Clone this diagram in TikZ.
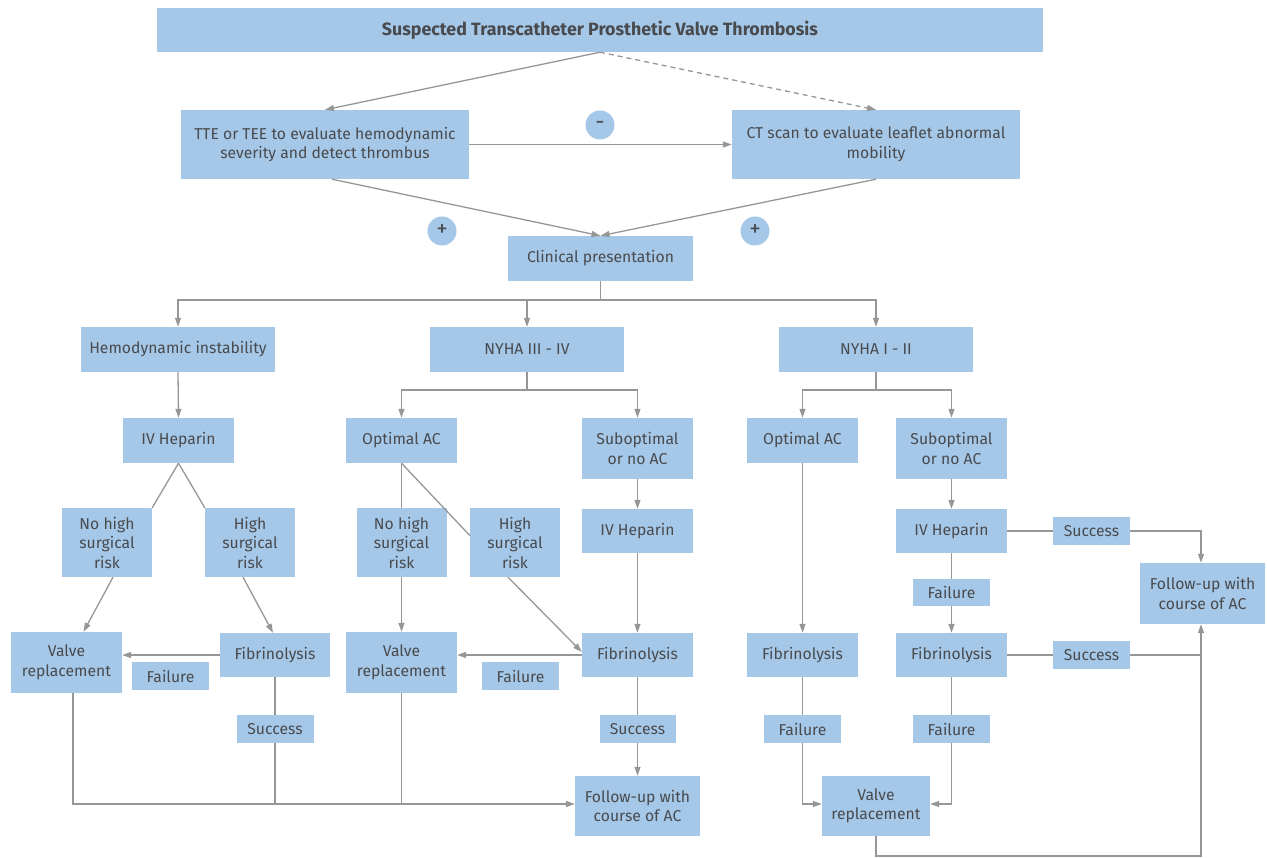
\documentclass[tikz,border=0pt]{standalone}
\usepackage{fontspec}
\setmainfont{Fira Sans}
\usetikzlibrary{arrows.meta,calc}
\definecolor{boxblue}{RGB}{166,200,232}
\definecolor{txtc}{RGB}{72,74,78}
\definecolor{lnc}{RGB}{150,150,150}
\begin{document}
\begin{tikzpicture}[x=1pt,y=-1pt,
  box/.style={fill=boxblue, text=txtc, inner sep=0pt, align=center, font=\fontsize{15.7}{19.5}\selectfont},
  arr/.style={draw=lnc, line width=1.3pt, -{Triangle[length=9pt,width=6pt]}},
  lnk/.style={draw=lnc, line width=1.3pt},
  circ/.style={circle, fill=boxblue, minimum size=29pt, inner sep=0pt, text=txtc, font=\fontsize{23}{24}\selectfont}]
\useasboundingbox (0,0) rectangle (1267,858);
\coordinate (y300) at (0,300);
\coordinate (y390) at (0,390);
\coordinate (y804) at (0,804);
\coordinate (y856) at (0,856);
% nodes
\node[box, minimum width=886pt, minimum height=44pt, font=\fontsize{17.8}{21}\selectfont\bfseries] (title) at (600,30) {Suspected Transcatheter Prosthetic Valve Thrombosis};
\node[box, minimum width=288pt, minimum height=69pt] (tte) at (325,144.5) {TTE or TEE to evaluate hemodynamic\\severity and detect thrombus};
\node[box, minimum width=288pt, minimum height=69pt] (ct) at (876,144.5) {CT scan to evaluate leaflet abnormal\\mobility};
\node[circ] (minus) at (600,125) {-};
\node[circ] (plusa) at (442,231) {+};
\node[circ] (plusb) at (755,231) {+};
\node[box, minimum width=185pt, minimum height=45pt] (clin) at (600.5,258.5) {Clinical presentation};
\node[box, minimum width=194pt, minimum height=45pt] (hemo) at (178,349.5) {Hemodynamic instability};
\node[box, minimum width=194pt, minimum height=45pt] (nyhab) at (527,349.5) {NYHA III - IV};
\node[box, minimum width=194pt, minimum height=45pt] (nyhaa) at (876,349.5) {NYHA I - II};
% left branch
\node[box, minimum width=111pt, minimum height=45pt] (ivha) at (178.5,440.5) {IV Heparin};
\node[box, minimum width=90pt, minimum height=69pt] (nha) at (107,542.5) {No high\\surgical\\risk};
\node[box, minimum width=90pt, minimum height=69pt] (hsa) at (250,542.5) {High\\surgical\\risk};
\node[box, minimum width=111pt, minimum height=61pt] (vra) at (66.5,662.5) {Valve\\replacement};
\node[box, minimum width=110pt, minimum height=44pt] (fiba) at (275,655) {Fibrinolysis};
\node[box, minimum width=77pt, minimum height=28pt] (faila) at (170.5,676) {Failure};
\node[box, minimum width=77pt, minimum height=28pt] (succa) at (275,729) {Success};
% middle branch
\node[box, minimum width=111pt, minimum height=45pt] (optb) at (401.5,440.5) {Optimal AC};
\node[box, minimum width=111pt, minimum height=61pt] (subb) at (637.5,448.5) {Suboptimal\\or no AC};
\node[box, minimum width=90pt, minimum height=69pt] (nhb) at (401.5,542.5) {No high\\surgical\\risk};
\node[box, minimum width=90pt, minimum height=69pt] (hsb) at (515,542.5) {High\\surgical\\risk};
\node[box, minimum width=111pt, minimum height=61pt] (vrb) at (401.5,662.5) {Valve\\replacement};
\node[box, minimum width=111pt, minimum height=44pt] (fibb) at (637.5,655) {Fibrinolysis};
\node[box, minimum width=77pt, minimum height=28pt] (failb) at (520.5,676) {Failure};
\node[box, minimum width=111pt, minimum height=44pt] (ivhb) at (637.5,531) {IV Heparin};
\node[box, minimum width=76pt, minimum height=28pt] (succb) at (637.5,729) {Success};
\node[box, minimum width=125pt, minimum height=60pt] (fub) at (637.5,806) {Follow-up with\\course of AC};
% right branch
\node[box, minimum width=111pt, minimum height=45pt] (optc) at (802.5,440.5) {Optimal AC};
\node[box, minimum width=111pt, minimum height=61pt] (subc) at (951.5,448.5) {Suboptimal\\or no AC};
\node[box, minimum width=111pt, minimum height=44pt] (fibc) at (802.5,655) {Fibrinolysis};
\node[box, minimum width=77pt, minimum height=28pt] (failc) at (802.5,729) {Failure};
\node[box, minimum width=108pt, minimum height=60pt] (vrc) at (876,806) {Valve\\replacement};
\node[box, minimum width=111pt, minimum height=44pt] (ivhc) at (951.5,531) {IV Heparin};
\node[box, minimum width=77pt, minimum height=27pt] (faild) at (951.5,592.5) {Failure};
\node[box, minimum width=111pt, minimum height=44pt] (fibd) at (951.5,655) {Fibrinolysis};
\node[box, minimum width=77pt, minimum height=28pt] (faile) at (951.5,729) {Failure};
\node[box, minimum width=77pt, minimum height=28pt] (succc) at (1091.5,531) {Success};
\node[box, minimum width=77pt, minimum height=28pt] (succd) at (1091.5,655) {Success};
\node[box, minimum width=125pt, minimum height=61pt] (fuc) at (1202.5,593.5) {Follow-up with\\course of AC};
% connectors top
\draw[arr] (title.south) -- (tte.north);
\draw[arr, dash pattern=on 5pt off 4pt] (title.south) -- (ct.north);
\draw[arr] (tte.east) -- (ct.west);
\draw[arr] ([xshift=7pt]tte.south) -- (clin.north);
\draw[arr] (ct.south) -- (clin.north);
\draw[arr] (clin.south) -- (clin.south |- y300) -| (hemo.north);
\draw[arr] (clin.south |- y300) -| (nyhab.north);
\draw[arr] (clin.south |- y300) -| (nyhaa.north);
% left
\draw[arr] (hemo.south) -- (ivha.north);
\draw[lnk] (ivha.south) -- (nha.north east);
\draw[lnk] (ivha.south) -- (hsa.north west);
\draw[arr] ([xshift=6pt]nha.south) -- ([xshift=17pt]vra.north);
\draw[arr] ([xshift=-7pt]hsa.south) -- ([xshift=-2pt]fiba.north);
\draw[arr] (fiba.west) -- (vra.east |- fiba.west);
\draw[lnk] (fiba.south) -- (succa.north);
\draw[lnk] (succa.south) -- (succa.south |- y804);
\draw[lnk] ([xshift=6.5pt]vra.south) -- ([xshift=6.5pt]vra.south |- y804) -- (succa.south |- y804);
% middle
\draw[arr] (nyhab.south) -- (nyhab.south |- y390) -| (optb.north);
\draw[arr] (nyhab.south |- y390) -| (subb.north);
\draw[lnk] (optb.south) -- (nhb.north);
\draw[arr] (nhb.south) -- (vrb.north);
\draw[lnk] (optb.south) -- ([yshift=7pt]hsb.west);
\draw[arr] ([xshift=-7pt]hsb.south) -- ([yshift=3pt]fibb.west);
\draw[arr] (fibb.west) -- (vrb.east |- fibb.west);
\draw[arr] (subb.south) -- (ivhb.north);
\draw[arr] (ivhb.south) -- (fibb.north);
\draw[lnk] (fibb.south) -- (succb.north);
\draw[arr] (succb.south) -- (fub.north);
\draw[lnk] (vrb.south) -- (vrb.south |- y804);
\draw[arr] (succa.south |- y804) -- (fub.west |- y804);
% right
\draw[arr] (nyhaa.south) -- (nyhaa.south |- y390) -| (optc.north);
\draw[arr] (nyhaa.south |- y390) -| (subc.north);
\draw[arr] (optc.south) -- (fibc.north);
\draw[lnk] (fibc.south) -- (failc.north);
\draw[arr] (failc.south) |- (vrc.west |- y804);
\draw[arr] (subc.south) -- (ivhc.north);
\draw[lnk] (ivhc.south) -- (faild.north);
\draw[arr] (faild.south) -- (fibd.north);
\draw[lnk] (fibd.south) -- (faile.north);
\draw[arr] (faile.south) |- (vrc.east |- y804);
\draw[lnk] (ivhc.east) -- (succc.west);
\draw[arr] (succc.east) -| ([xshift=-1.5pt]fuc.north);
\draw[lnk] (fibd.east) -- (succd.west);
\draw[arr] (succd.east) -| ([xshift=-1.5pt]fuc.south);
\draw[lnk] (vrc.south) -- (vrc.south |- y856) -| ([xshift=-1.5pt]fuc.south |- succd.east);
\end{tikzpicture}
\end{document}
